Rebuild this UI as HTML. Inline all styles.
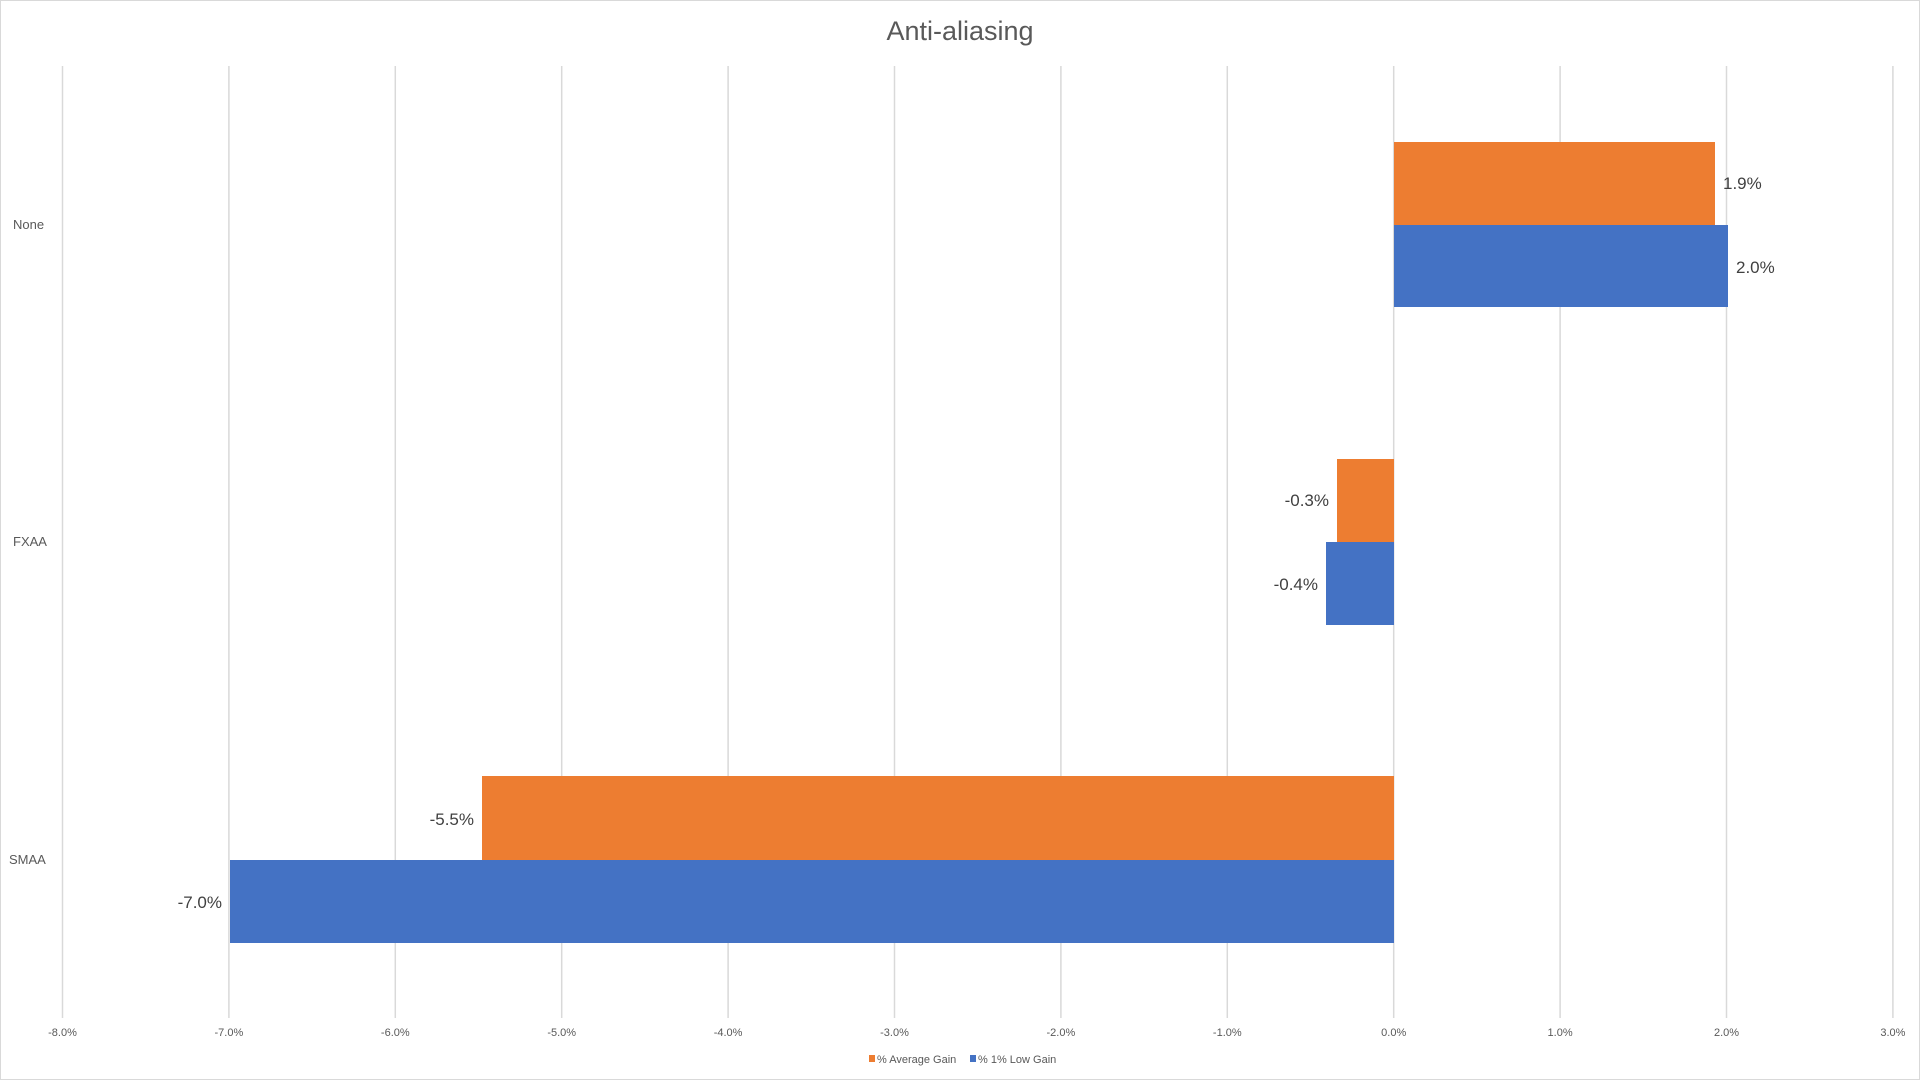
<!DOCTYPE html>
<html><head><meta charset="utf-8"><style>body{margin:0;background:#fff}svg{display:block}</style></head><body>
<svg width="1920" height="1080" viewBox="0 0 1920 1080" xmlns="http://www.w3.org/2000/svg" font-family="Liberation Sans, sans-serif">
<rect x="0.5" y="0.5" width="1919" height="1079" fill="#fff" stroke="#d9d9d9"/>
<text x="960" y="40" text-anchor="middle" font-size="27" fill="#595959">Anti-aliasing</text>
<g stroke="#d9d9d9" stroke-width="1.5">
<line x1="62.5" y1="66" x2="62.5" y2="1018"/><line x1="228.9" y1="66" x2="228.9" y2="1018"/>
<line x1="395.3" y1="66" x2="395.3" y2="1018"/><line x1="561.7" y1="66" x2="561.7" y2="1018"/>
<line x1="728.1" y1="66" x2="728.1" y2="1018"/><line x1="894.5" y1="66" x2="894.5" y2="1018"/>
<line x1="1060.9" y1="66" x2="1060.9" y2="1018"/><line x1="1227.3" y1="66" x2="1227.3" y2="1018"/>
<line x1="1393.7" y1="66" x2="1393.7" y2="1018"/><line x1="1560.1" y1="66" x2="1560.1" y2="1018"/>
<line x1="1726.5" y1="66" x2="1726.5" y2="1018"/><line x1="1892.9" y1="66" x2="1892.9" y2="1018"/>
</g>
<g font-size="11" fill="#595959" text-anchor="middle">
<text x="62.5" y="1036">-8.0%</text><text x="228.9" y="1036">-7.0%</text><text x="395.3" y="1036">-6.0%</text>
<text x="561.7" y="1036">-5.0%</text><text x="728.1" y="1036">-4.0%</text><text x="894.5" y="1036">-3.0%</text>
<text x="1060.9" y="1036">-2.0%</text><text x="1227.3" y="1036">-1.0%</text><text x="1393.7" y="1036">0.0%</text>
<text x="1560.1" y="1036">1.0%</text><text x="1726.5" y="1036">2.0%</text><text x="1892.9" y="1036">3.0%</text>
</g>
<g font-size="13" fill="#595959">
<text x="13" y="229">None</text><text x="13" y="546">FXAA</text><text x="9" y="864">SMAA</text>
</g>
<g>
<rect x="1394" y="142" width="321" height="83" fill="#ed7d31"/>
<rect x="1394" y="225" width="334" height="82" fill="#4472c4"/>
<rect x="1337" y="459" width="57" height="83" fill="#ed7d31"/>
<rect x="1326" y="542" width="68" height="83" fill="#4472c4"/>
<rect x="482" y="776" width="912" height="84" fill="#ed7d31"/>
<rect x="230" y="860" width="1164" height="83" fill="#4472c4"/>
</g>
<g font-size="17" fill="#404040">
<text x="1723" y="189">1.9%</text><text x="1736" y="273">2.0%</text>
<text x="1329" y="506" text-anchor="end">-0.3%</text><text x="1318" y="590" text-anchor="end">-0.4%</text>
<text x="474" y="825" text-anchor="end">-5.5%</text><text x="222" y="908" text-anchor="end">-7.0%</text>
</g>
<g font-size="11" fill="#595959">
<rect x="869" y="1055" width="6" height="7" fill="#ed7d31"/><text x="877" y="1063">% Average Gain</text>
<rect x="970" y="1055" width="6" height="7" fill="#4472c4"/><text x="978" y="1063">% 1% Low Gain</text>
</g>
</svg>
</body></html>
